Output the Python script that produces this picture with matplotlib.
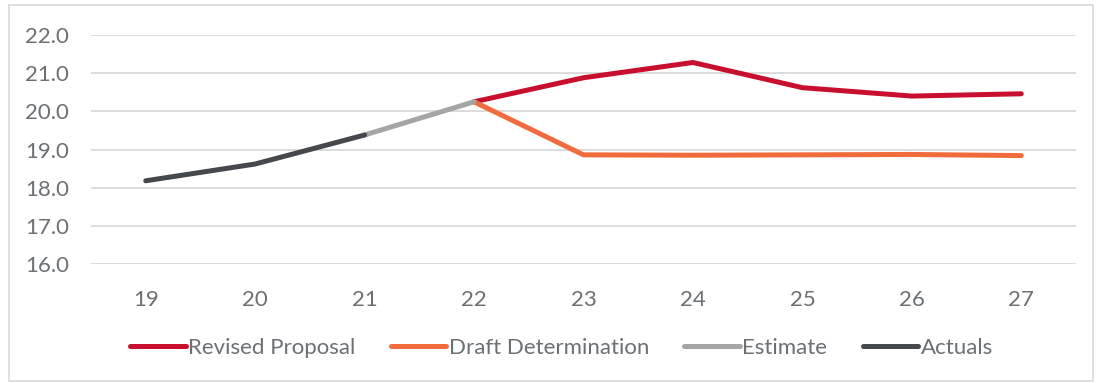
import numpy as np
import matplotlib.pyplot as plt
from matplotlib.patches import Rectangle

# ==============================
# DATA
# ==============================
years = ["19", "20", "21", "22", "23", "24", "25", "26", "27"]
revised = [np.nan, np.nan, np.nan, 20.25, 20.88, 21.28, 20.62, 20.40, 20.46]
draft = [np.nan, np.nan, np.nan, 20.25, 18.86, 18.85, 18.86, 18.87, 18.84]
estimate = [np.nan, np.nan, 19.38, 20.25, np.nan, np.nan, np.nan, np.nan, np.nan]
actuals = [18.18, 18.62, 19.38, np.nan, np.nan, np.nan, np.nan, np.nan, np.nan]

series_names = ["Revised Proposal", "Draft Determination", "Estimate", "Actuals"]
series_colors = ["#C8102E", "#F26B3D", "#A5A5A5", "#45494D"]

text_col = "#6B7075"
plt.rcParams['font.family'] = ['Lato', 'DejaVu Sans']

# ==============================
# FIGURE
# ==============================
fig = plt.figure(figsize=(10.97, 3.83), dpi=100)
ax = fig.add_axes([91 / 1097, 1 - 264 / 383, (1076 - 91) / 1097, (264 - 35) / 383])

x = np.arange(len(years))
for vals, name, col in zip([revised, draft, estimate, actuals], series_names, series_colors):
    ax.plot(x, vals, color=col, lw=3.6, label=name, solid_capstyle='round', zorder=3)

ax.set_xlim(-0.5, len(years) - 0.5)
ax.set_ylim(16, 22)
ax.set_yticks(np.arange(16, 22.1, 1))
ax.set_yticklabels([f"{v:.1f}" for v in np.arange(16, 22.1, 1)])
ax.set_xticks(x)
ax.set_xticklabels(years)

ax.grid(axis='y', color="#D9D9D9", lw=1.3)
ax.set_axisbelow(True)
for s in ax.spines.values():
    s.set_visible(False)
ax.tick_params(length=0, colors=text_col, labelsize=16)
ax.tick_params(axis='y', pad=16)
ax.tick_params(axis='x', pad=19)

leg = fig.legend(loc='center', bbox_to_anchor=(0.5 + 13 / 1097, 1 - 348 / 383), ncol=4,
                 frameon=False, fontsize=16, handlelength=2.5, handletextpad=0.1,
                 columnspacing=1.6, labelcolor=text_col)
for h in leg.get_lines():
    h.set_linewidth(3.6)

# outer border
fig.patches.append(Rectangle((9 / 1097, 2 / 383), 1084 / 1097, 376 / 383,
                             transform=fig.transFigure, fill=False,
                             edgecolor="#D9D9D9", lw=1.2))

fig.savefig("out.png", dpi=100)
